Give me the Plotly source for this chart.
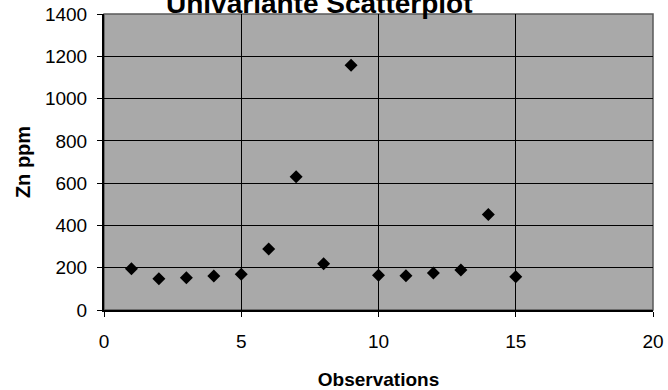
import plotly.graph_objects as go

# Zn concentration (ppm) per observation
observations = [1, 2, 3, 4, 5, 6, 7, 8, 9, 10, 11, 12, 13, 14, 15]
zn_ppm = [195, 148, 153, 161, 169, 288, 630, 219, 1158, 164, 162, 175, 189, 452, 157]

x_ticks = [0, 5, 10, 15, 20]
y_ticks = [0, 200, 400, 600, 800, 1000, 1200, 1400]

FONT = "Liberation Sans, Arial, sans-serif"

fig = go.Figure()
fig.add_trace(go.Scatter(
    x=observations,
    y=zn_ppm,
    mode="markers",
    marker=dict(symbol="diamond", size=10, color="black"),
    showlegend=False,
    cliponaxis=False,
))

fig.update_layout(
    width=668,
    height=390,
    margin=dict(l=104, r=15, t=14, b=80),
    paper_bgcolor="white",
    plot_bgcolor="#a9a9a9",
    font=dict(family=FONT, size=19, color="black"),
    annotations=[dict(
        text="<b>Univariante Scatterplot</b>",
        xref="paper", yref="paper",
        x=0.393, y=0.975,
        xanchor="center", yanchor="bottom",
        showarrow=False,
        font=dict(family=FONT, size=28, color="black"),
    )],
    shapes=[dict(
        type="rect", xref="paper", yref="paper",
        x0=0, x1=1, y0=0, y1=1,
        line=dict(color="#5a5a5a", width=1.5),
        layer="below",
    )],
)

fig.update_xaxes(
    range=[0, 20],
    tickvals=x_ticks,
    ticks="outside", ticklen=5, tickcolor="black",
    showgrid=True, gridcolor="black", gridwidth=1,
    showline=True, linecolor="black", linewidth=2,
    zeroline=False,
    ticklabelstandoff=8,
    title=dict(text="<b>Observations</b>", font=dict(size=19), standoff=23),
    automargin=False,
)
fig.update_yaxes(
    range=[0, 1400],
    tickvals=y_ticks,
    ticks="outside", ticklen=5, tickcolor="black",
    showgrid=True, gridcolor="black", gridwidth=1.3,
    showline=True, linecolor="black", linewidth=2,
    zeroline=False,
    ticklabelstandoff=6,
    title=dict(text="<b>Zn ppm</b>", font=dict(size=20), standoff=9),
    automargin=False,
)

fig.write_html("out.html")
